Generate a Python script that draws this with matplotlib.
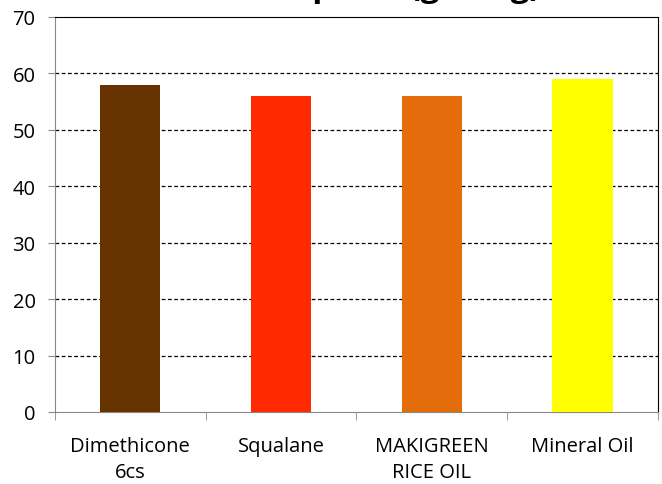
import matplotlib.pyplot as plt
import numpy as np

plt.rcParams['font.family'] = ['Open Sans', 'DejaVu Sans']

categories = ["Dimethicone\n6cs", "Squalane", "MAKIGREEN\nRICE OIL", "Mineral Oil"]
values = [58, 56, 56, 59]
colors = ["#663300", "#FF2A00", "#E46C0A", "#FFFF00"]
yticks = [0, 10, 20, 30, 40, 50, 60, 70]

fig = plt.figure(figsize=(6.62, 4.85), dpi=100)
ax = fig.add_axes([0.083, 0.1485, 0.911, 0.8145])

x = np.arange(len(categories))
ax.bar(x, values, width=0.4, color=colors, zorder=3)

ax.set_xlim(-0.5, len(categories) - 0.5)
ax.set_ylim(0, 70)
ax.set_yticks(yticks)
ax.set_xticks(x)
ax.set_xticklabels(categories, fontsize=14.5, linespacing=1.45)
ax.set_xticks(np.arange(len(categories) + 1) - 0.5, minor=True)
ax.tick_params(axis='x', which='major', length=0, pad=17)
ax.tick_params(axis='x', which='minor', length=6, color='#888888')
ax.tick_params(axis='y', length=5, color='#888888', labelsize=14.5, pad=9)

for v in yticks[1:-1]:
    ax.axhline(v, color='black', lw=0.9, ls=(0, (3, 2)), zorder=1)

ax.spines['left'].set_color('#888888')
ax.spines['bottom'].set_color('#888888')
ax.spines['top'].set_color('black')
ax.spines['right'].set_color('black')

# title sits mostly above the top edge, as in the source image
fig.text(0.532, 1.008, "Oil absorption (g/100g)", ha='center', va='baseline',
         fontsize=24, fontweight='bold')

fig.savefig("out.png", dpi=100)
